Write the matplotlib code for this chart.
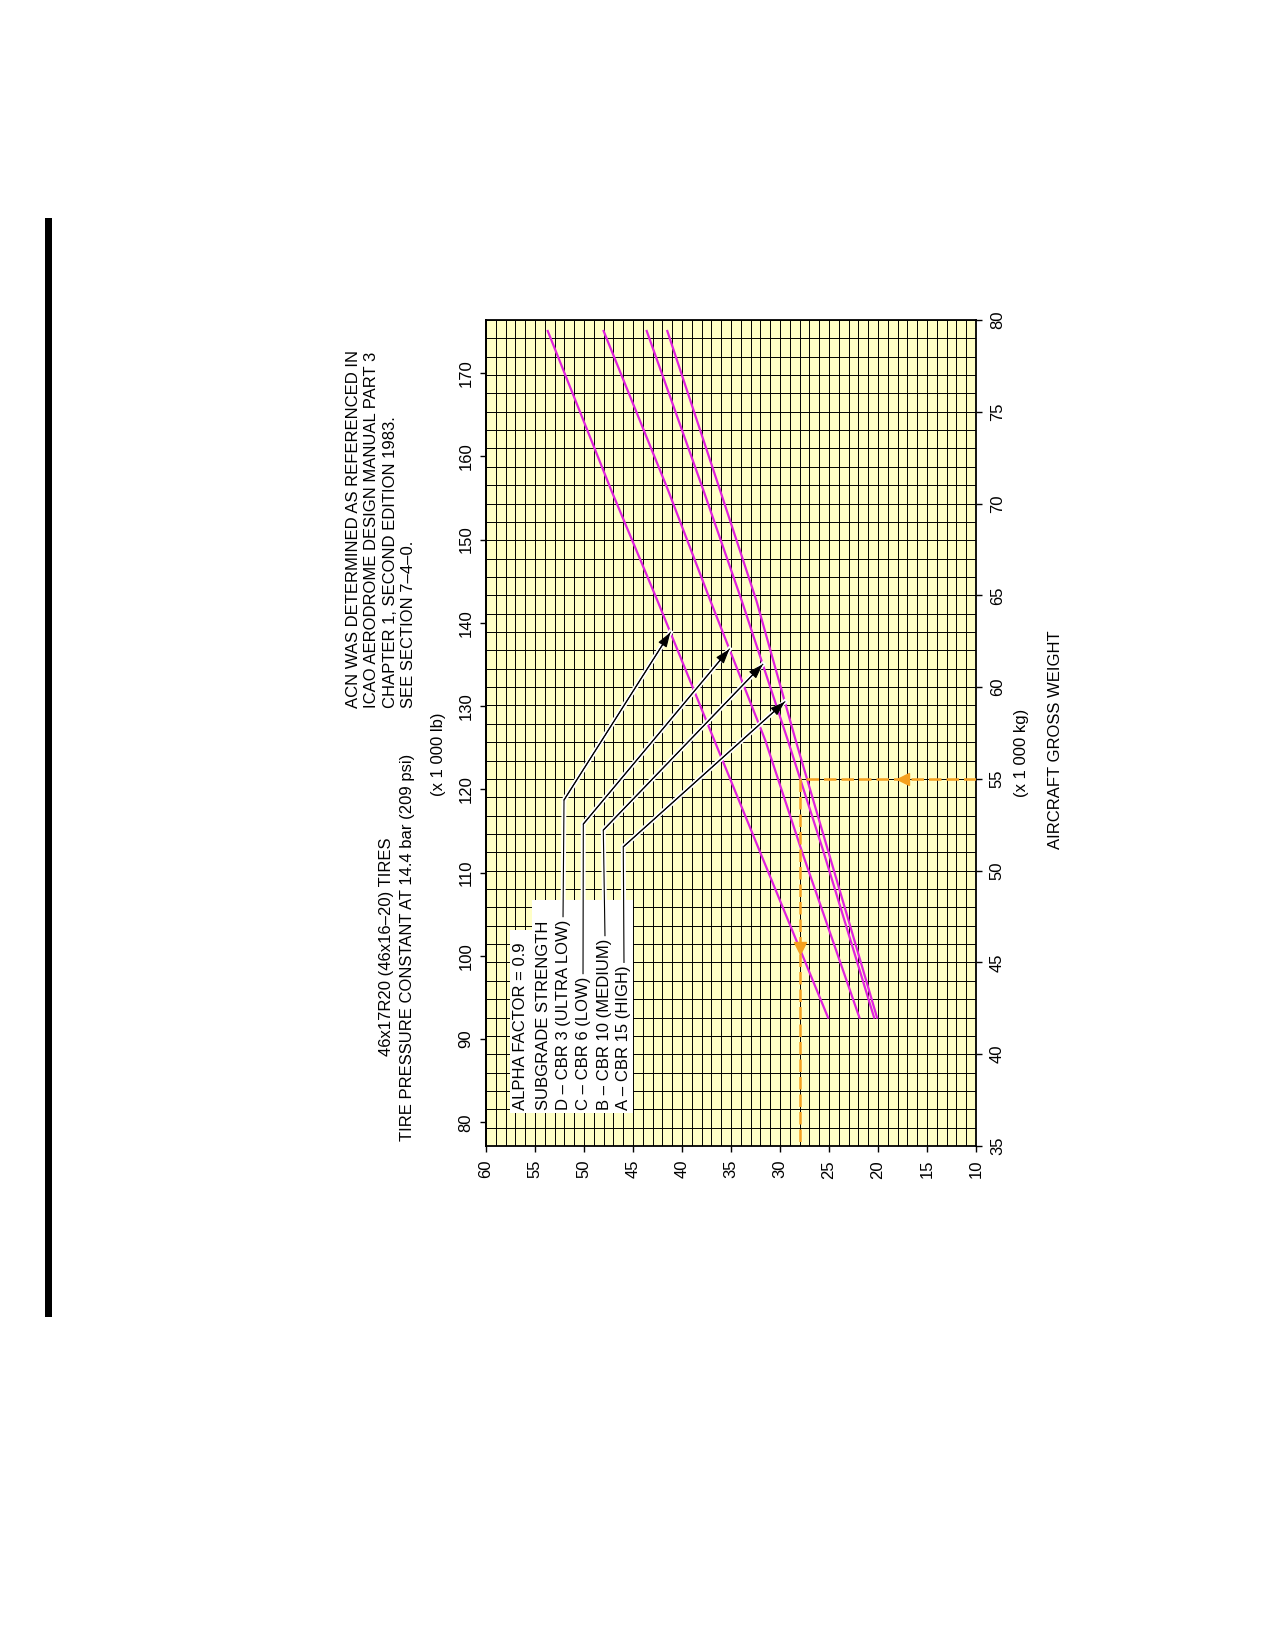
import matplotlib

matplotlib.use("Agg")
import matplotlib.patheffects as pe
import matplotlib.pyplot as plt
import numpy as np
from matplotlib.patches import Rectangle
from matplotlib.ticker import MultipleLocator

plt.rcParams["font.family"] = ["Liberation Sans", "DejaVu Sans"]

W, H = 1275, 1645

# ACN vs. aircraft gross weight (x 1000 kg)
weight_t = [42.0, 51.1, 57.1, 64.7, 70.7, 79.4]
acn_cbr3 = [25.1, 32.1, 36.7, 42.5, 47.2, 53.7]
acn_cbr6 = [21.9, 27.8, 31.5, 37.1, 41.4, 48.0]
acn_cbr10 = [20.4, 25.6, 29.2, 33.9, 37.8, 43.6]
acn_cbr15 = [20.1, 25.1, 28.4, 32.4, 36.1, 41.5]

legend_lines = [
    "ALPHA FACTOR = 0.9",
    "SUBGRADE STRENGTH",
    "D \u2013 CBR 3 (ULTRA LOW)",
    "C \u2013 CBR 6 (LOW)",
    "B \u2013 CBR 10 (MEDIUM)",
    "A \u2013 CBR 15 (HIGH)",
]
arrow_weights = [62.98, 62.07, 61.24, 59.2]

example_weight = 55.0
example_acn = 28.0

acn_ticks = list(range(10, 61, 5))
kg_ticks = list(range(35, 81, 5))
lb_ticks = list(range(80, 171, 10))

note_lines = [
    "ACN WAS DETERMINED AS REFERENCED IN",
    "ICAO AERODROME DESIGN MANUAL PART 3",
    "CHAPTER 1, SECOND EDITION 1983.",
    "SEE SECTION 7\u20134\u20130.",
]
title_lines = [
    "46x17R20 (46x16\u201320) TIRES",
    "TIRE PRESSURE CONSTANT AT 14.4 bar (209 psi)",
]

MAGENTA = "#E022DE"
ORANGE = "#F5A01E"


def fx(x):
    return x / W


def fy(y):
    return 1 - y / H


fig = plt.figure(figsize=(W / 100, H / 100), dpi=100)
ax = fig.add_axes([fx(486), fy(1146), 490 / W, 826 / H])
ax.set_facecolor("#FFFFC6")
ax.set_xlim(60, 10)
ax.set_ylim(35, 80)

ax.xaxis.set_minor_locator(MultipleLocator(1))
ax.yaxis.set_minor_locator(MultipleLocator(1))
ax.grid(which="both", color="black", linewidth=0.7, zorder=1)
ax.set_axisbelow(True)
for s in ax.spines.values():
    s.set_linewidth(1.3)

ax.set_xticks(acn_ticks, labels=[str(v) for v in acn_ticks], rotation=90)
ax.yaxis.tick_right()
ax.set_yticks(kg_ticks, labels=[str(v) for v in kg_ticks], rotation=90, va="center")
ax.tick_params(which="major", direction="out", length=4, width=1, labelsize=12, pad=6)
ax.tick_params(which="minor", length=0)

sec = ax.secondary_yaxis("left", functions=(lambda w: w * 2.20462, lambda lb: lb / 2.20462))
sec.set_yticks(lb_ticks, labels=[str(v) for v in lb_ticks], rotation=90, va="center")
sec.tick_params(direction="out", length=4, width=1, labelsize=12, pad=5)
sec.spines["left"].set_linewidth(1.3)

curves = [acn_cbr3, acn_cbr6, acn_cbr10, acn_cbr15]
for acn in curves:
    ax.plot(acn, weight_t, color=MAGENTA, linewidth=1.6, zorder=3)

# example reading: 55 t on CBR 10 gives ACN 28
ax.plot([10, example_acn], [example_weight, example_weight], color=ORANGE, linewidth=1.8,
        dashes=(5, 2), zorder=4)
ax.plot([example_acn, example_acn], [example_weight, 35], color=ORANGE, linewidth=1.8,
        dashes=(5, 2), zorder=4)
ax.plot(17.4, example_weight, marker="<", markersize=8, color=ORANGE, zorder=4)
ax.plot(example_acn, 45.8, marker="v", markersize=8, color=ORANGE, zorder=4)

# white legend panel
ax.add_patch(Rectangle((55.2, 36.8), 2.35, 9.96, facecolor="white", edgecolor="none", zorder=5))
ax.add_patch(Rectangle((45.0, 36.8), 10.3, 11.6, facecolor="white", edgecolor="none", zorder=5))

legend_x = [56.53, 54.18, 52.14, 50.10, 47.86, 45.92]
legend_texts = []
for x, line in zip(legend_x, legend_lines):
    t = ax.text(x, 36.96, line, rotation=90, rotation_mode="anchor", ha="left", va="center",
                fontsize=12, zorder=6)
    legend_texts.append(t)

for x, line in zip([354, 372, 390, 408.5], note_lines):
    fig.text(fx(x), fy(708), line, rotation=90, rotation_mode="anchor", ha="left", va="center",
             fontsize=12)
for x, line in zip([386, 407.5], title_lines):
    fig.text(fx(x), fy(947), line, rotation=90, rotation_mode="anchor", ha="center",
             va="center", fontsize=12)

fig.text(fx(439), fy(754), "(x 1 000 lb)", rotation=90, rotation_mode="anchor", ha="center",
         va="center", fontsize=12)
fig.text(fx(1022), fy(753), "(x 1 000 kg)", rotation=90, rotation_mode="anchor", ha="center",
         va="center", fontsize=12)
fig.text(fx(1055), fy(740), "AIRCRAFT GROSS WEIGHT", rotation=90, rotation_mode="anchor",
         ha="center", va="center", fontsize=12)

fig.add_artist(Rectangle((fx(45), fy(1317)), 7 / W, 1099 / H, transform=fig.transFigure,
                         facecolor="black", edgecolor="none"))

# leader lines from the legend entries to the curves
bends = [(52.04, 53.85), (50.07, 52.54), (48.03, 52.21), (45.99, 51.30)]
fig.canvas.draw()
renderer = fig.canvas.get_renderer()
inv = ax.transData.inverted()
for txt, acn, w_tip, bend in zip(legend_texts[2:], curves, arrow_weights, bends):
    bb = txt.get_window_extent(renderer)
    x0, y0 = inv.transform(((bb.x0 + bb.x1) / 2, bb.y1 + 3))
    tip_acn = float(np.interp(w_tip, weight_t, acn))
    ax.plot([x0, bend[0], tip_acn], [y0, bend[1], w_tip], color="black", linewidth=0.8,
            solid_joinstyle="round", zorder=6,
            path_effects=[pe.Stroke(linewidth=3.5, foreground="white"), pe.Normal()])
    ax.annotate("", xy=(tip_acn, w_tip), xytext=bend,
                arrowprops=dict(arrowstyle="-|>,head_length=0.9,head_width=0.3", color="black",
                                lw=0.8, shrinkA=0, shrinkB=0, mutation_scale=10),
                zorder=7)

fig.savefig("out.png", dpi=100)
plt.close(fig)
